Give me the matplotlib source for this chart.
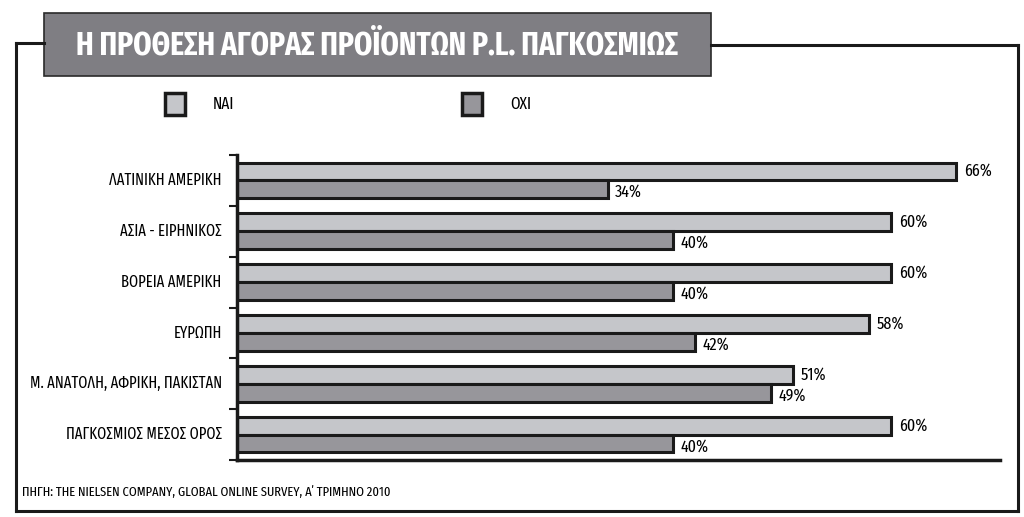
import matplotlib
matplotlib.use("Agg")
import matplotlib.pyplot as plt
import numpy as np
from matplotlib.patches import Rectangle
from matplotlib.lines import Line2D

plt.rcParams['font.family'] = ['Fira Sans Extra Condensed', 'DejaVu Sans']

regions = ["ΛΑΤΙΝΙΚΗ ΑΜΕΡΙΚΗ", "ΑΣΙΑ - ΕΙΡΗΝΙΚΟΣ", "ΒΟΡΕΙΑ ΑΜΕΡΙΚΗ",
           "ΕΥΡΩΠΗ", "Μ. ΑΝΑΤΟΛΗ, ΑΦΡΙΚΗ, ΠΑΚΙΣΤΑΝ", "ΠΑΓΚΟΣΜΙΟΣ ΜΕΣΟΣ ΟΡΟΣ"]
yes = [66, 60, 60, 58, 51, 60]
no = [34, 40, 40, 42, 49, 40]
series_names = ["ΝΑΙ", "ΟΧΙ"]

light = "#c5c6ca"
dark = "#97969b"
title_bg = "#7f7e83"
ink = "#1a1a1a"

W, H = 1024, 517
fig = plt.figure(figsize=(W / 100, H / 100), dpi=100)

def fx(px):
    return px / W

def fy(py):
    return 1 - py / H

# outer frame
frame_kw = dict(color=ink, lw=2.2, transform=fig.transFigure)
fig.add_artist(Line2D([fx(16), fx(16)], [fy(43), fy(511)], **frame_kw))
fig.add_artist(Line2D([fx(16), fx(1018)], [fy(511), fy(511)], **frame_kw))
fig.add_artist(Line2D([fx(1018), fx(1018)], [fy(511), fy(45)], **frame_kw))
fig.add_artist(Line2D([fx(16), fx(44)], [fy(43), fy(43)], **frame_kw))
fig.add_artist(Line2D([fx(711), fx(1018)], [fy(45), fy(45)], **frame_kw))

# title box
fig.add_artist(Rectangle((fx(44), fy(76)), fx(711 - 44), fy(13) - fy(76),
                         transform=fig.transFigure, facecolor=title_bg,
                         edgecolor="#2a2a2a", lw=1.2))
fig.text(fx(377), fy(46), "Η ΠΡΟΘΕΣΗ ΑΓΟΡΑΣ ΠΡΟΪΟΝΤΩΝ P.L. ΠΑΓΚΟΣΜΙΩΣ",
         color="white", fontsize=23, fontweight="bold", ha="center", va="center")

# legend
for x0, name, col in [(165, series_names[0], light), (462, series_names[1], dark)]:
    fig.add_artist(Rectangle((fx(x0), fy(115)), fx(20), fy(93) - fy(115),
                             transform=fig.transFigure, facecolor=col,
                             edgecolor=ink, lw=2.5))
    fig.text(fx(x0 + 48), fy(104), name, fontsize=12, ha="left", va="center")

ax = fig.add_axes([fx(237), fy(460), fx(1000 - 237), fy(155) - fy(460)])
y = np.arange(len(regions))
h = 0.35
ax.barh(y - h / 2, yes, height=h, color=light, edgecolor=ink, lw=2.2)
ax.barh(y + h / 2, no, height=h, color=dark, edgecolor=ink, lw=2.2)

for i in range(len(regions)):
    ax.text(yes[i] + 0.7, y[i] - h / 2, f"{yes[i]}%", fontsize=12.5,
            ha="left", va="center")
    ax.text(no[i] + 0.7, y[i] + h / 2 + 0.06, f"{no[i]}%", fontsize=12.5,
            ha="left", va="center")
    ax.text(-1.4, y[i], regions[i], fontsize=11.4, ha="right", va="center")

ax.set_xlim(0, 70)
ax.set_ylim(len(regions) - 0.5, -0.5)
ax.set_yticks(np.arange(len(regions) + 1) - 0.5)
ax.set_yticklabels([])
ax.set_xticks([])
ax.tick_params(axis="y", length=6, width=1.5, color=ink)
for s in ["top", "right"]:
    ax.spines[s].set_visible(False)
for s in ["left", "bottom"]:
    ax.spines[s].set_linewidth(2.5)
    ax.spines[s].set_color(ink)
ax.set_facecolor("none")

fig.text(fx(22), fy(492), "ΠΗΓΗ: THE NIELSEN COMPANY, GLOBAL ONLINE SURVEY, Α΄ ΤΡΙΜΗΝΟ 2010",
         fontsize=9.8, ha="left", va="center")

fig.savefig("out.png", dpi=100)
